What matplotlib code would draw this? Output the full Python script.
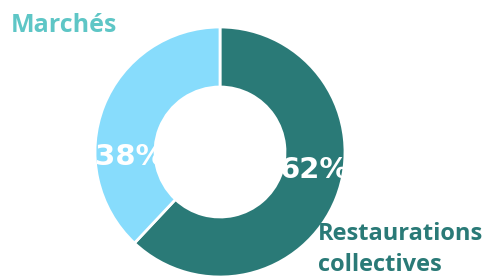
import matplotlib
matplotlib.use('Agg')
import matplotlib.pyplot as plt

# Data
labels = ['Restaurations\ncollectives', 'Marchés']
values = [62, 38]
colors = ['#2a7a77', '#87dcfc']
label_colors = ['#2a7a77', '#5ec6c6']

W, H = 488, 278
fig = plt.figure(figsize=(W / 100, H / 100), dpi=100)
ax = fig.add_axes([0, 0, 1, 1])

cx, cy, R = 220, 152, 125
# y axis is inverted below, so startangle=-90 is the visual top and
# counterclock=True runs visually clockwise
wedges, _ = ax.pie(values, colors=colors, startangle=-90, counterclock=True,
                   radius=R, center=(cx, cy), frame=True,
                   wedgeprops=dict(width=R * 0.48, edgecolor='white', linewidth=2))
ax.set_xlim(0, W)
ax.set_ylim(0, H)
ax.invert_yaxis()
ax.set_aspect('equal')
ax.axis('off')

# percentage labels, clipped to their wedge
pct_pos = [(cx + 0.75 * R, cy + 0.14 * R), (cx - 0.72 * R, cy + 0.04 * R)]
for w, v, (px, py) in zip(wedges, values, pct_pos):
    t = ax.text(px, py, f'{v}%', color='white', fontsize=21, fontweight='bold',
                family='DejaVu Sans', ha='center', va='center')
    t.set_clip_path(w)

# category labels
ax.text(11, 13, labels[1], color=label_colors[1], fontsize=18, fontweight='bold',
        family='Open Sans', ha='left', va='top')
ax.text(318, 222, labels[0], color=label_colors[0], fontsize=17, fontweight='bold',
        family='Open Sans', ha='left', va='top', linespacing=1.38)

fig.savefig('out.png', dpi=100)
